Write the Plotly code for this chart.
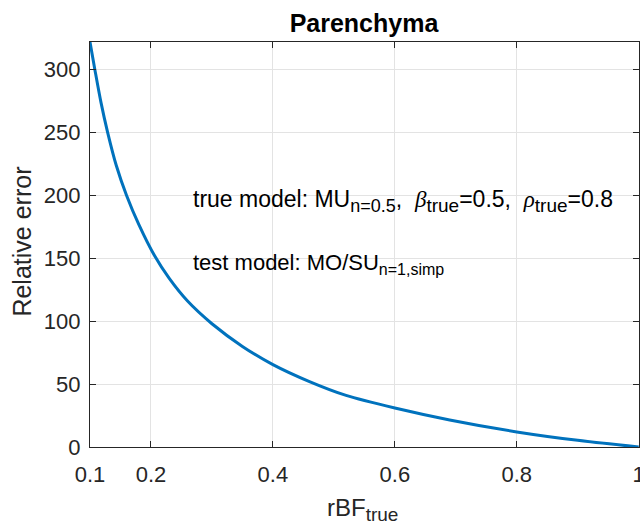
import plotly.graph_objects as go

rbf_true = [0.1, 0.108, 0.118, 0.129, 0.143, 0.16, 0.18, 0.206, 0.23, 0.26, 0.3, 0.35, 0.4, 0.46, 0.52, 0.6, 0.69, 0.8, 0.9, 1.0]
rel_error = [322, 300, 274, 250, 224, 200, 177, 152, 134, 116, 98, 80, 65.5, 52, 41, 31, 21.5, 12, 5.3, 0]

x_tickvals = [0.1, 0.2, 0.4, 0.6, 0.8, 1.0]
x_ticktext = ["0.1", "0.2", "0.4", "0.6", "0.8", "1"]
y_tickvals = [0, 50, 100, 150, 200, 250, 300]

AX = "#262626"
FONT = "Liberation Sans, Arial, Helvetica, sans-serif"
SERIF = "Liberation Serif, Times New Roman, serif"

fig = go.Figure()
fig.add_trace(go.Scatter(
    x=rbf_true, y=rel_error, mode="lines",
    line=dict(color="#0072BD", width=3, shape="spline", smoothing=0.8),
    showlegend=False, hoverinfo="skip",
))

sub = lambda s, px: "<sub><span style='font-size:%dpx'>%s</span></sub>" % (px, s)

fig.add_annotation(
    x=0.266, y=195.8, xref="x", yref="y", xanchor="left", yanchor="middle",
    showarrow=False, align="left",
    text="true model: MU" + sub("n=0.5", 18) + ",  "
         + "<span style='font-family:" + SERIF + "'><i>β</i></span>" + sub("true", 19) + "=0.5,  "
         + "<span style='font-family:" + SERIF + "'><i>ρ</i></span>" + sub("true", 19) + "=0.8",
    font=dict(family=FONT, size=23, color="#000000"),
)
fig.add_annotation(
    x=0.266, y=145.8, xref="x", yref="y", xanchor="left", yanchor="middle",
    showarrow=False, align="left",
    text="test model: MO/SU" + sub("n=1,simp", 16),
    font=dict(family=FONT, size=22, color="#000000"),
)

# axis titles
fig.add_annotation(
    x=-0.124, y=0.507, xref="paper", yref="paper", xanchor="center", yanchor="middle",
    showarrow=False, textangle=-90, text="Relative error",
    font=dict(family=FONT, size=25, color=AX),
)
fig.add_annotation(
    x=0.497, y=-0.11, xref="paper", yref="paper", xanchor="center", yanchor="top",
    showarrow=False, text="rBF" + sub("true", 19),
    font=dict(family=FONT, size=24, color=AX),
)

fig.update_layout(
    width=640, height=529,
    margin=dict(l=90, r=1, t=42, b=82),
    paper_bgcolor="white", plot_bgcolor="white",
    font=dict(family=FONT, color=AX),
    title=dict(text="<b>Parenchyma</b>", x=364 / 640, xanchor="center", y=1 - 23 / 529, yanchor="middle",
               font=dict(family=FONT, size=25, color="#000000")),
)
fig.update_xaxes(
    range=[0.1, 1.0005], tickvals=x_tickvals, ticktext=x_ticktext,
    showgrid=True, gridcolor="#e3e3e3", gridwidth=1,
    showline=True, linecolor=AX, linewidth=1.2, mirror="ticks",
    ticks="inside", ticklen=6, tickcolor=AX,
    tickfont=dict(family=FONT, size=22, color=AX),
    ticklabelstandoff=7, ticklabeloverflow="allow",
    zeroline=False, automargin=False,
)
fig.update_yaxes(
    range=[0, 322], tickvals=y_tickvals,
    showgrid=True, gridcolor="#e3e3e3", gridwidth=1,
    showline=True, linecolor=AX, linewidth=1.2, mirror="ticks",
    ticks="inside", ticklen=6, tickcolor=AX,
    tickfont=dict(family=FONT, size=22, color=AX),
    ticklabelstandoff=4,
    zeroline=False, automargin=False,
)

fig.write_html("out.html", config={"displayModeBar": False},
               post_script="document.body.style.margin='0';document.body.style.overflow='hidden';")
